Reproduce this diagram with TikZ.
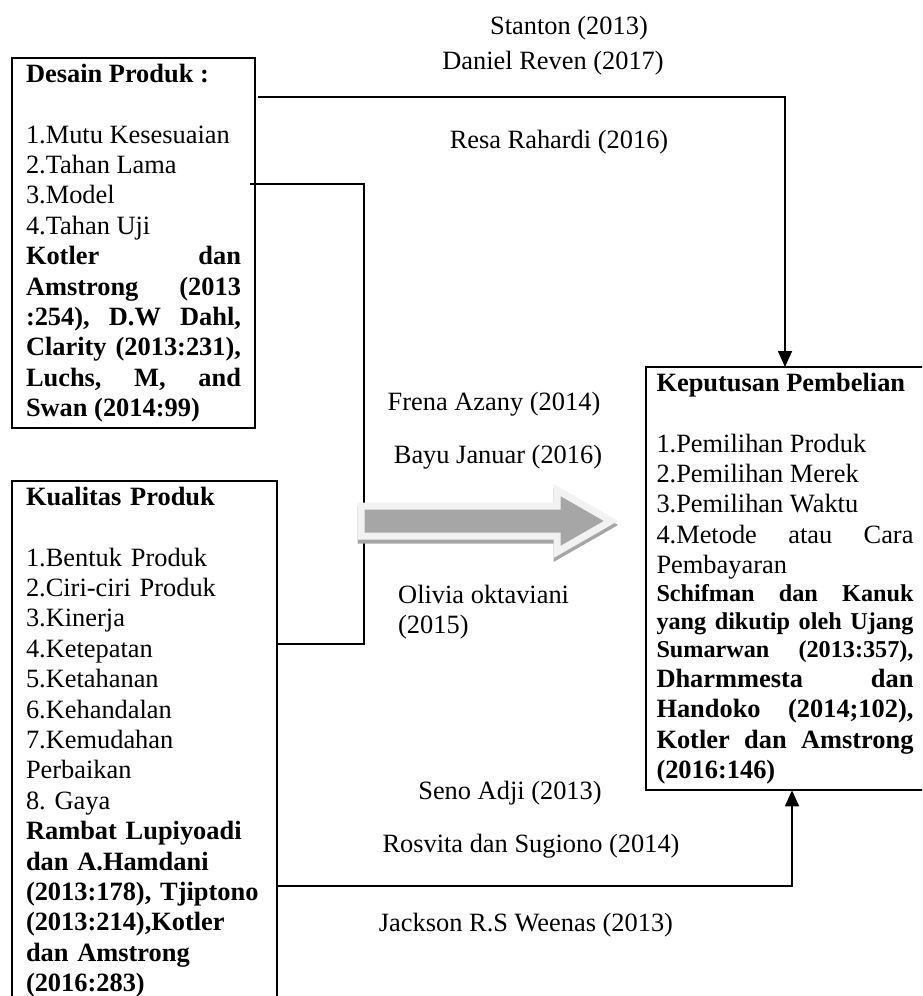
\documentclass[tikz,border=0pt]{standalone}
\usepackage{fontspec}
\setmainfont{Liberation Serif}
\usetikzlibrary{arrows.meta}
\frenchspacing
\newcommand{\bodyfont}{\fontsize{26.4pt}{30.4pt}\selectfont\tolerance=10000\hyphenpenalty=10000\relax}
\newcommand{\citefont}{\fontsize{24.2pt}{27.8pt}\selectfont\bfseries}
\tikzset{
  box/.style={draw, line width=1.8pt, anchor=north west, align=justify,
    inner xsep=14pt, inner ysep=6pt, outer sep=0pt, font=\bodyfont},
  conn/.style={line width=1.7pt},
  tip/.style={-{Triangle[width=14pt,length=16pt]}},
  ref/.style={font=\bodyfont, inner sep=0pt},
  bigarrow/.style={fill=black!35, draw=black!5, line width=7pt, line join=miter},
  arrowshade/.style={fill=black!35, draw=black!35, line width=7pt, line join=miter}
}

\begin{document}
\begin{tikzpicture}[x=1pt,y=-1pt]
  \useasboundingbox (0,0) rectangle (922,996);
  \clip (0,0) rectangle (922,996);

  % kotak variabel
  \node[box, text width=215pt] (desain) at (12,58) {%
    \textbf{Desain Produk :}\\[30.4pt]
    1.Mutu Kesesuaian\\
    2.Tahan Lama\\
    3.Model\\
    4.Tahan Uji\\
    \textbf{Kotler dan\linebreak Amstrong (2013\linebreak :254), D.W Dahl,\linebreak
      Clarity (2013:231),\linebreak Luchs, M, and\linebreak Swan (2014:99)}};
  \node[box, align=left, text width=237pt] (kualitas) at (12,481) {%
    \textbf{Kualitas Produk}\\[30.4pt]
    1.Bentuk Produk\\
    2.Ciri-ciri Produk\\
    3.Kinerja\\
    4.Ketepatan\\
    5.Ketahanan\\
    6.Kehandalan\\
    7.Kemudahan\\
    Perbaikan\\
    8. Gaya\\
    \textbf{Rambat Lupiyoadi}\\
    \textbf{dan A.Hamdani}\\
    \textbf{(2013:178), Tjiptono}\\
    \textbf{(2013:214),Kotler}\\
    \textbf{dan Amstrong}\\
    \textbf{(2016:283)}};
  \node[box, inner xsep=10.5pt, text width=257pt] (keputusan) at (646,367) {%
    \textbf{Keputusan Pembelian}\\[30.4pt]
    1.Pemilihan Produk\\
    2.Pemilihan Merek\\
    3.Pemilihan Waktu\\
    4.Metode atau Cara\linebreak Pembayaran\par
    {\citefont Schifman dan Kanuk\linebreak yang dikutip oleh Ujang\linebreak
      Sumarwan (2013:357),\parfillskip=0pt\par}
    \textbf{Dharmmesta dan\linebreak Handoko (2014;102),\linebreak
      Kotler dan Amstrong\linebreak (2016:146)}};

  % penelitian terdahulu
  \node[ref] (stanton) at (569,28) {Stanton (2013)};
  \node[ref] (reven) at (553,63) {Daniel Reven (2017)};
  \node[ref] (resa) at (559,142) {Resa Rahardi (2016)};
  \node[ref] (frena) at (494,404) {Frena Azany (2014)};
  \node[ref] (bayu) at (498,457) {Bayu Januar (2016)};
  \node[ref, anchor=north west, align=left] (olivia) at (398,585)
    {Olivia oktaviani\\(2015)};
  \node[ref] (seno) at (510,793) {Seno Adji (2013)};
  \node[ref] (rosvita) at (531,846) {Rosvita dan Sugiono (2014)};
  \node[ref] (jackson) at (526,925) {Jackson R.S Weenas (2013)};

  % garis penghubung
  \coordinate (dA) at ([shift={(3pt,-39pt)}]desain.north east);
  \coordinate (dB) at ([shift={(-5pt,-126pt)}]desain.north east);
  \coordinate (kB) at ([yshift=-163pt]kualitas.north east);
  \coordinate (kC) at ([yshift=-405pt]kualitas.north east);
  \draw[conn, tip] (dA) -| (keputusan.north);
  \draw[conn] (dB) -- ++(114,0) |- (kB);
  \draw[conn, tip] (kC) -| ([xshift=7pt]keputusan.south);

  % panah simultan
  \begin{scope}[shift={(0,4)}]
    \filldraw[arrowshade] (361,506) -- (557,506) -- (557,490) -- (611,521)
      -- (557,552) -- (557,536) -- (361,536) -- cycle;
  \end{scope}
  \filldraw[bigarrow] (361,506) -- (557,506) -- (557,490) -- (611,521)
    -- (557,552) -- (557,536) -- (361,536) -- cycle;
\end{tikzpicture}
\end{document}
